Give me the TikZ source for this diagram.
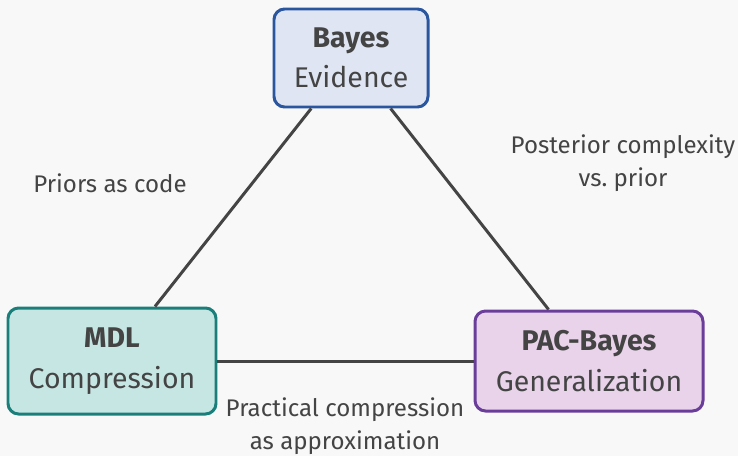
\documentclass[tikz,border=0pt]{standalone}
\usepackage{fontspec}
\setmainfont{Fira Sans}
\usepackage{tikz}
\usetikzlibrary{positioning}
\definecolor{BgGray}{HTML}{F8F8F8}
\definecolor{InkGray}{HTML}{444444}
\definecolor{BayesBlue}{HTML}{2A56A0}
\definecolor{BayesFill}{HTML}{DFE5F2}
\definecolor{MdlTeal}{HTML}{1A7F7A}
\definecolor{MdlFill}{HTML}{C6E6E4}
\definecolor{PacPurple}{HTML}{6A3D9A}
\definecolor{PacFill}{HTML}{E8D3EA}
\tikzset{
  % Box styles
  theorybox/.style={rectangle, rounded corners=6pt, line width=1.7pt, text=InkGray, align=center, font=\fontsize{16.2}{23}\selectfont},
  bayesbox/.style={theorybox, draw=BayesBlue, fill=BayesFill, minimum width=3.08cm, minimum height=1.96cm},
  mdlbox/.style={theorybox, draw=MdlTeal, fill=MdlFill, minimum width=4.16cm, minimum height=2.12cm},
  pacbox/.style={theorybox, draw=PacPurple, fill=PacFill, minimum width=4.56cm, minimum height=2.0cm},
  % Link styles
  link/.style={line width=1.7pt, InkGray},
  linklabel/.style={text=InkGray, align=center, font=\fontsize{13.7}{19}\selectfont}
}
\begin{document}
\begin{tikzpicture}
  \fill[BgGray] (0,0) rectangle (14.76,-9.12);
  \useasboundingbox (0,0) rectangle (14.76,-9.12);

  % Theories
  \node[bayesbox] (bayes) at (7.02,-1.16) {\textbf{Bayes}\\Evidence};
  \node[mdlbox] (mdl) at (2.24,-7.22) {\textbf{MDL}\\Compression};
  \node[pacbox] (pac) at (11.78,-7.22) {\textbf{PAC-Bayes}\\Generalization};

  % Links
  \draw[link] (bayes) -- (mdl);
  \draw[link] (bayes) -- (pac);
  \draw[link] (mdl) -- (pac);

  % Labels
  \node[linklabel] (priors) at (2.2,-3.66) {Priors as code};
  \node[linklabel] (posterior) at (12.46,-3.26) {Posterior complexity\\vs.\ prior};
  \node[linklabel] (practical) at (6.9,-8.52) {Practical compression\\as approximation};
\end{tikzpicture}
\end{document}
